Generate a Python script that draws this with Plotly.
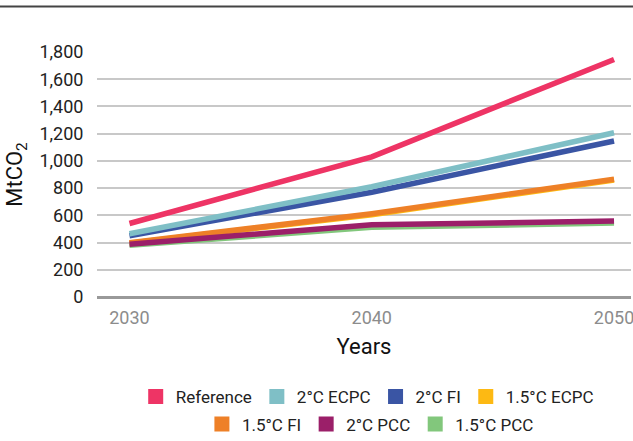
import plotly.graph_objects as go

years = [2030, 2040, 2050]
series_names = ["Reference", "2°C ECPC", "2°C FI", "1.5°C ECPC", "1.5°C FI", "2°C PCC", "1.5°C PCC"]
reference = [540, 1030, 1745]
ecpc_2c = [465, 810, 1207]
fi_2c = [450, 770, 1146]
ecpc_15c = [395, 605, 860]
fi_15c = [398, 612, 865]
pcc_2c = [388, 530, 558]
pcc_15c = [380, 512, 543]
y_ticks = [0, 200, 400, 600, 800, 1000, 1200, 1400, 1600, 1800]

colors = {
    "Reference": "#EE3465",
    "2°C ECPC": "#7FBFC6",
    "2°C FI": "#3A55A4",
    "1.5°C ECPC": "#FDB913",
    "1.5°C FI": "#EE8027",
    "2°C PCC": "#9B1F69",
    "1.5°C PCC": "#82C77C",
}
values = {
    "Reference": reference,
    "2°C ECPC": ecpc_2c,
    "2°C FI": fi_2c,
    "1.5°C ECPC": ecpc_15c,
    "1.5°C FI": fi_15c,
    "2°C PCC": pcc_2c,
    "1.5°C PCC": pcc_15c,
}

FONT = "Roboto, sans-serif"

fig = go.Figure()

# lines, in stacking order
draw_order = ["Reference", "2°C FI", "2°C ECPC", "1.5°C ECPC", "1.5°C FI", "1.5°C PCC", "2°C PCC"]
for name in draw_order:
    fig.add_trace(go.Scatter(
        x=years, y=values[name], mode="lines", name=name,
        line=dict(color=colors[name], width=5.5),
        showlegend=False, legendgroup=name, hoverinfo="x+y+name",
    ))

# square legend keys, split over two rows
for i, name in enumerate(series_names):
    fig.add_trace(go.Scatter(
        x=[None], y=[None], mode="markers", name=name,
        marker=dict(symbol="square", size=15, color=colors[name]),
        legendgroup=name, legend="legend" if i < 4 else "legend2",
    ))

legend_common = dict(
    orientation="h", xanchor="center", yanchor="middle",
    font=dict(family=FONT, size=17, color="#222222"),
    bgcolor="rgba(0,0,0,0)", itemclick=False, itemdoubleclick=False,
)

fig.update_layout(
    width=633, height=441,
    margin=dict(l=97, r=2, t=52, b=144, autoexpand=False),
    paper_bgcolor="white", plot_bgcolor="white",
    font=dict(family=FONT, size=18, color="#222222"),
    xaxis=dict(
        range=[2028.66, 2050.70], tickvals=years, ticktext=[str(y) for y in years],
        showgrid=False, zeroline=False, showline=False,
        ticks="outside", ticklen=4, tickcolor="rgba(0,0,0,0)",
        ticklabeloverflow="allow",
        tickfont=dict(family=FONT, size=18, color="#8C8C8C"),
        title=dict(text="Years", font=dict(family=FONT, size=22, color="#111111"), standoff=12),
    ),
    yaxis=dict(
        range=[0, 1800], tickvals=y_ticks, tickformat=",d",
        showgrid=True, gridcolor="#C8C8C8", gridwidth=1.5,
        zeroline=True, zerolinecolor="#999999", zerolinewidth=3,
        showline=False,
        ticks="outside", ticklen=9, tickcolor="rgba(0,0,0,0)",
        tickfont=dict(family=FONT, size=18, color="#222222"),
        title=dict(text="MtCO<sub>2</sub>", font=dict(family=FONT, size=22, color="#111111"), standoff=10),
    ),
    legend=dict(x=0.506, y=-0.408, **legend_common),
    legend2=dict(x=0.512, y=-0.520, **legend_common),
    shapes=[dict(
        type="line", xref="paper", yref="paper",
        x0=-0.19, x1=1.01, y0=1.186, y1=1.186,
        line=dict(color="#444444", width=2),
    )],
)

fig.write_html("out.html")
